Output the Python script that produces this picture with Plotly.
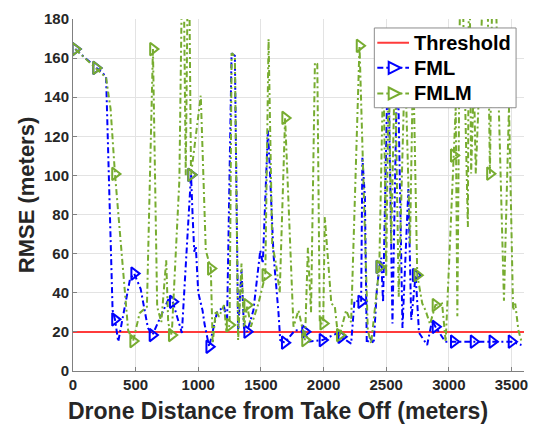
import plotly.graph_objects as go

# ---------------- data ----------------
threshold_value = 20
x_range_max = 3600

fml_x = [18, 184, 264, 316, 335, 361, 455, 488, 540, 598, 634, 770, 796, 869, 942,
         955, 968, 980, 1000, 1034, 1050, 1087, 1150, 1205, 1230, 1266, 1292, 1318,
         1345, 1365, 1390, 1440, 1495, 1515, 1556, 1570, 1600, 1640, 1654, 1690, 1773,
         1852, 1880, 1991, 2100, 2141, 2220, 2247, 2300, 2310, 2330, 2345, 2370, 2400,
         2425, 2445, 2460, 2475, 2515, 2550, 2590, 2630, 2677, 2700, 2735, 2762, 2827, 2867,
         2893, 2972, 3039, 3197, 3347, 3500, 3580]
fml_y = [164.6, 155, 150.7, 31, 26.4, 15, 47, 49.8, 42, 22, 18.4, 37.9, 35.4, 19.5, 100.3,
         79, 61, 64, 40, 31, 24, 12.4, 30, 33, 26, 162.4, 161.2, 20.9,
         51.5, 22, 20.1, 31, 61.7, 55, 123, 105, 60, 30, 15.8, 14.5, 20.9,
         20.1, 15, 15.8, 19, 17.5, 14, 36, 35.4, 109, 89, 14.1, 17, 14,
         41, 53.2, 58, 35, 165, 24.3, 165, 22, 93, 26, 49, 19.5, 13.3, 26,
         22.6, 15, 15, 15, 15, 15, 13.3]
fml_marker_x = [18, 184, 335, 488, 634, 796, 942, 1087, 1390, 1690, 1852, 1991, 2141,
                2300, 2445, 2735, 2893, 3039, 3197, 3347, 3500]

fmlm_x = [18, 184, 264, 300, 335, 440, 480, 532, 590, 638, 672, 705, 744, 760, 788,
          849, 878, 900, 922, 942, 1020, 1060, 1100, 1115, 1140, 1166, 1205, 1225, 1250,
          1266, 1292, 1318, 1345, 1365, 1390, 1420, 1480, 1535, 1561, 1590, 1620, 1650,
          1693, 1760, 1800, 1852, 1875, 1900, 1931, 1950, 1970, 1997, 2010, 2062, 2090,
          2110, 2129, 2180, 2220, 2287, 2353, 2380, 2410, 2445, 2478, 2500, 2520, 2540,
          2570, 2600, 2650, 2690, 2715, 2748, 2788, 2814, 2850, 2893, 2946, 2975, 3039,
          3055, 3068, 3095, 3152, 3162, 3178, 3200, 3215, 3300, 3328, 3355, 3440, 3480,
          3513, 3530, 3555, 3580]
fmlm_y = [164.6, 155, 150, 134, 100.8, 20.9, 15.3, 29.6, 32.8, 164.6, 32.8, 25, 56.6, 24.5, 18.4,
          97.4, 240, 100, 240, 100.3, 140.8, 61.7, 52.4, 14, 31, 27.7, 33.7, 20, 23.5,
          162.4, 161.2, 15.8, 55, 22, 33.7, 22.6, 34.5, 49, 169.7, 65, 55, 40,
          129.4, 22.6, 31, 15.8, 63, 30, 157.8, 157, 24.3, 24.3, 78.7, 34.5, 33,
          21, 18.4, 31, 25, 166.3, 20.9, 14, 31, 53.2, 160, 48, 160, 65,
          160, 38, 160, 65, 160, 49, 34.5, 31, 24, 33.7, 34.5, 15, 110.2,
          135, 28, 240, 73.6, 240, 101, 150, 101, 240, 100.9, 240, 36, 135,
          31, 34.5, 21, 15]
fmlm_marker_x = [18, 184, 335, 480, 638, 788, 942, 1100, 1250, 1390, 1535, 1693, 1852,
                 1997, 2129, 2287, 2445, 2748, 2893, 3039, 3328]

x_ticks = [0, 500, 1000, 1500, 2000, 2500, 3000, 3500]
y_ticks = [0, 20, 40, 60, 80, 100, 120, 140, 160, 180]

legend_names = ["Threshold", "FML", "FMLM"]
x_title = "Drone Distance from Take Off (meters)"
y_title = "RMSE (meters)"

# ---------------- styles ----------------
RED = "#ff3b3b"
BLUE = "#0000ff"
GREEN = "#77ac30"
DASHDOT = "6px,3px,2px,3px"
FONT = "Liberation Sans, Arial, Helvetica, sans-serif"

W, H = 538, 430
ML, MR, MT, MB = 73, 10, 18, 59
PW, PH = W - ML - MR, H - MT - MB


def pxx(px):  # pixel -> paper x
    return (px - ML) / PW


def pxy(py):  # pixel -> paper y
    return (H - MB - py) / PH


def pick(xs, ys, sel):
    lookup = dict(zip(xs, ys))
    return list(sel), [lookup[x] for x in sel]


fig = go.Figure()

# Threshold
fig.add_trace(go.Scatter(x=[0, x_range_max], y=[threshold_value, threshold_value],
                         mode="lines", line=dict(color=RED, width=2),
                         name=legend_names[0], showlegend=False))

marker_style = dict(symbol="triangle-right-open", size=11)

for name, xs, ys, mx, color in [(legend_names[1], fml_x, fml_y, fml_marker_x, BLUE),
                                (legend_names[2], fmlm_x, fmlm_y, fmlm_marker_x, GREEN)]:
    fig.add_trace(go.Scatter(x=xs, y=ys, mode="lines", name=name,
                             line=dict(color=color, width=2, dash=DASHDOT),
                             showlegend=False, hoverinfo="skip"))
    px_, py_ = pick(xs, ys, mx)
    fig.add_trace(go.Scatter(x=px_, y=py_, mode="markers", name=name,
                             marker=dict(color=color, line=dict(color=color, width=2),
                                         **marker_style),
                             showlegend=False))

# ---------------- legend (drawn box) ----------------
shapes = []
annotations = []
box_l, box_r, box_t, box_b = 377, 520, 27, 107
shapes.append(dict(type="rect", xref="paper", yref="paper", layer="above",
                   x0=pxx(box_l), x1=pxx(box_r), y0=pxy(box_b), y1=pxy(box_t),
                   fillcolor="white", line=dict(color="#8c8c8c", width=1)))
rows = [(legend_names[0], RED, "solid", False, 41.7),
        (legend_names[1], BLUE, DASHDOT, True, 67),
        (legend_names[2], GREEN, DASHDOT, True, 92.7)]
for label, color, dash, has_marker, cy in rows:
    shapes.append(dict(type="line", xref="paper", yref="paper", layer="above",
                       x0=pxx(380), x1=pxx(412), y0=pxy(cy), y1=pxy(cy),
                       line=dict(color=color, width=2, dash=dash)))
    if has_marker:
        cx = 396.5
        path = "M {:.5f},{:.5f} L {:.5f},{:.5f} L {:.5f},{:.5f} Z".format(
            pxx(cx - 5), pxy(cy - 6), pxx(cx + 7), pxy(cy), pxx(cx - 5), pxy(cy + 6))
        shapes.append(dict(type="path", xref="paper", yref="paper", layer="above",
                           path=path, fillcolor="white",
                           line=dict(color=color, width=2)))
    annotations.append(dict(text=label, xref="paper", yref="paper", showarrow=False,
                            x=pxx(415), y=pxy(cy), xanchor="left", yanchor="middle",
                            font=dict(family=FONT, size=20, color="black", weight="bold")))

# x axis title
annotations.append(dict(text=x_title, xref="paper", yref="paper", showarrow=False,
                        x=pxx(280), y=pxy(411), xanchor="center", yanchor="middle",
                        font=dict(family=FONT, size=23, color="#262626", weight="bold")))

axis_common = dict(showgrid=True, gridcolor="#e3e3e3", gridwidth=1,
                   showline=True, linecolor="#808080", linewidth=1,
                   ticks="inside", ticklen=4, tickcolor="#808080",
                   zeroline=False,
                   tickfont=dict(family=FONT, size=15, color="#262626", weight="bold"))

fig.update_layout(
    width=W, height=H,
    margin=dict(l=ML, r=MR, t=MT, b=MB),
    paper_bgcolor="white", plot_bgcolor="white",
    xaxis=dict(range=[0, x_range_max], tickvals=x_ticks, **axis_common),
    yaxis=dict(range=[0, 180], tickvals=y_ticks,
               title=dict(text=y_title, standoff=3,
                          font=dict(family=FONT, size=22, color="#262626", weight="bold")),
               **axis_common),
    shapes=shapes,
    annotations=annotations,
    showlegend=False,
)

fig.write_html("out.html")
